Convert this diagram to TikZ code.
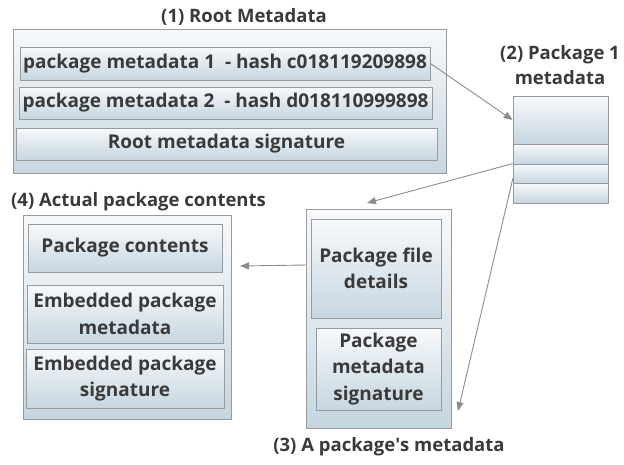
\documentclass[tikz,border=0pt]{standalone}
\usepackage{fontspec}
\setmainfont{Open Sans}
\usetikzlibrary{shadows,arrows.meta}
\definecolor{txt}{HTML}{3A3A3A}
\definecolor{gtop}{HTML}{F7F9FB}
\definecolor{gbot}{HTML}{C6D6E1}
\definecolor{edge}{HTML}{9A9A9A}
\definecolor{arr}{HTML}{8C8C8C}
\tikzset{
  boxbase/.style={draw=edge, line width=0.8pt, top color=gtop, bottom color=gbot,
    drop shadow={shadow xshift=1.2pt, shadow yshift=-1.2pt, fill=black, opacity=0.25},
    inner sep=0pt, align=center, text=txt, font=\fontsize{19}{26.5}\selectfont\bfseries},
  outerbox/.style={boxbase, line width=0.6pt},
  innerbox/.style={boxbase},
  ttl/.style={text=txt, font=\fontsize{18.5}{25}\selectfont\bfseries, align=center, inner sep=0pt},
  conn/.style={draw=arr, line width=0.9pt, -{Triangle[length=9pt,width=7pt,fill=arr]}}
}
\begin{document}
\begin{tikzpicture}[x=1pt,y=-1pt]
\useasboundingbox (0,0) rectangle (624,464);
% (1) root metadata
\node[ttl] (t1) at (244,17) {(1) Root Metadata};
\node[outerbox, minimum width=433pt, minimum height=144pt] (root) at (229.5,101) {};
\node[innerbox, minimum width=410pt, minimum height=33pt] (pm1) at (225,63.5) {package metadata 1\ \ - hash c018119209898};
\node[innerbox, minimum width=413pt, minimum height=32pt] (pm2) at (225.5,103) {package metadata 2\ \ - hash d018110999898};
\node[innerbox, minimum width=421pt, minimum height=32pt] (rsig) at (226.5,144) {Root metadata signature};
% (2) package 1 metadata
\node[ttl] (t2) at (560,65.5) {(2) Package 1\\metadata};
\node[innerbox, minimum width=95pt, minimum height=48pt] (r1) at (560.5,120) {};
\node[innerbox, minimum width=95pt, minimum height=20pt] (r2) at (560.5,154) {};
\node[innerbox, minimum width=95pt, minimum height=19pt] (r3) at (560.5,173.5) {};
\node[innerbox, minimum width=95pt, minimum height=20pt] (r4) at (560.5,193) {};
% (3) a package's metadata
\node[outerbox, minimum width=145pt, minimum height=219pt] (b3) at (378.5,318.5) {};
\node[innerbox, minimum width=130pt, minimum height=99pt] (pfd) at (376,268.5) {Package file\\details};
\node[innerbox, minimum width=125pt, minimum height=82pt] (pms) at (378.5,369) {Package\\metadata\\signature};
\node[ttl] (t3) at (389,447) {(3) A package\textquotesingle s metadata};
% (4) actual package contents
\node[ttl, anchor=west] (t4) at (11,202) {(4) Actual package contents};
\node[outerbox, minimum width=208pt, minimum height=204pt] (b4) at (127,317) {};
\node[innerbox, minimum width=194pt, minimum height=48pt] (pc) at (125,248) {Package contents};
\node[innerbox, minimum width=196pt, minimum height=58pt] (epm) at (125,314) {Embedded package\\metadata};
\node[innerbox, minimum width=198pt, minimum height=59pt] (eps) at (125,378.5) {Embedded package\\signature};
% connectors
\coordinate (e2) at (367,203);
\coordinate (s3) at (513,178);
\coordinate (e3) at (458,411);
\coordinate (s4) at (306,265);
\coordinate (e4) at (240,266);
\draw[conn] (pm1.east) -- (r1.west);
\draw[conn] (r3.north west) -- (e2);
\draw[conn] (s3) -- (e3);
\draw[conn] (s4) -- (e4);
\end{tikzpicture}
\end{document}
